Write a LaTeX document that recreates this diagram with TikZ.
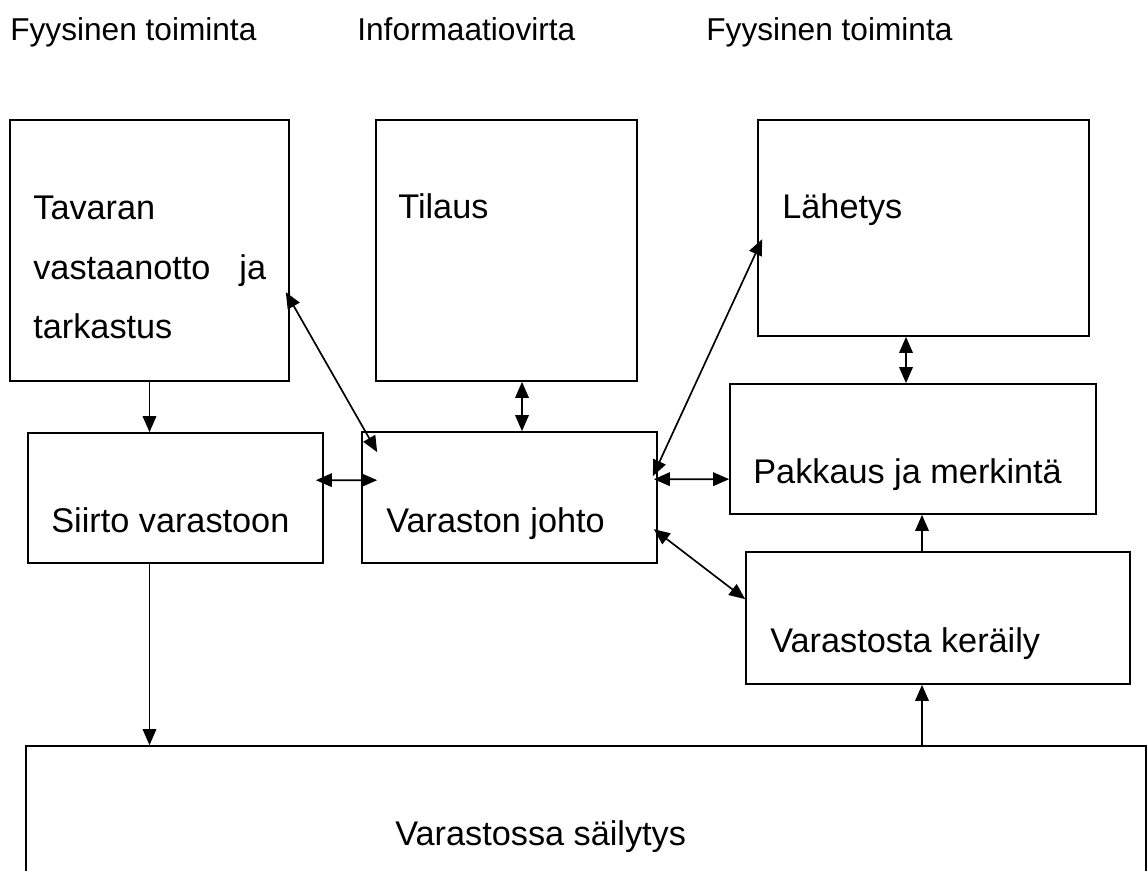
\documentclass[tikz,border=0pt]{standalone}
\usepackage{fontspec}
\setmainfont{Liberation Sans}
\usepackage{tikz}
\usetikzlibrary{arrows.meta, calc, fit}
\tikzstyle{block}=[draw, rectangle, inner sep=0pt, line width=0.95pt]
\tikzstyle{txt}=[inner sep=0pt, anchor=base west, font=\boxfont]
\tikzstyle{arr}=[line width=0.95pt, -{Triangle[length=0.32cm, width=0.27cm]}]
\tikzstyle{darr}=[line width=0.95pt, {Triangle[length=0.32cm, width=0.27cm]}-{Triangle[length=0.32cm, width=0.27cm]}]
\newcommand{\boxfont}{\fontsize{19.5}{23}\selectfont}
\newcommand{\hdfont}{\fontsize{18}{21}\selectfont}

\begin{document}
\begin{tikzpicture}[x=0.02cm, y=-0.02cm]
		\useasboundingbox (0,0) rectangle (1148,871);
		\clip (0,0) rectangle (1148,871);
		% headings
		\node[txt, font=\hdfont] (hdA) at (10,41) {Fyysinen toiminta};
		\node[txt, font=\hdfont] (hdB) at (357,41) {Informaatiovirta};
		\node[txt, font=\hdfont] (hdC) at (706,41) {Fyysinen toiminta};
		%---------------------
		\node[block, fit={(10,120) (289,381)}] (tav) {};
		\node[block, fit={(376,120) (637,381)}] (til) {};
		\node[block, fit={(758,120) (1089,336)}] (lah) {};
		\node[block, fit={(28,433) (323,563)}] (sii) {};
		\node[block, fit={(362,432) (657,563)}] (joh) {};
		\node[block, fit={(730,384) (1096,514)}] (pak) {};
		\node[block, fit={(746,552) (1130,684)}] (ker) {};
		\node[block, fit={(26,746) (1146,910)}] (sai) {};
		%---------------------
		\node[txt] (tavA) at (33,220) {Tavaran};
		\node[txt] (tavB) at (33,279) {vastaanotto\hspace{0.58cm}ja};
		\node[txt] (tavC) at (33,338) {tarkastus};
		\node[txt] (tilA) at (398,219) {Tilaus};
		\node[txt] (lahA) at (782,219) {Lähetys};
		\node[txt] (siiA) at (51,532) {Siirto varastoon};
		\node[txt] (johA) at (386,532) {Varaston johto};
		\node[txt] (pakA) at (753,483) {Pakkaus ja merkintä};
		\node[txt] (kerA) at (770,652) {Varastosta keräily};
		\node[txt] (saiA) at (395,845) {Varastossa säilytys};
		%---------------------
		\draw[arr] (tav.south) -- (tav.south |- sii.north);
		\draw[arr] (tav.south |- sii.south) -- (tav.south |- sai.north);
		\draw[darr] ($(tav.north east)+(-4,173)$) -- ($(joh.north west)+(16,21)$);
		\draw[darr] ($(sii.north east)+(-8,48)$) -- ($(joh.north west)+(16,49)$);
		\draw[darr] ($(til.south)+(15.5,0)$) -- ($(joh.north)+(12.5,0)$);
		\draw[darr] ($(joh.north east)+(-5,45)$) -- ($(lah.north west)+(5,120)$);
		\draw[darr] ($(joh.north east)+(-4,48)$) -- ($(pak.north west)+(0,96)$);
		\draw[darr] ($(joh.north east)+(-4,98)$) -- ($(ker.north west)+(0,48)$);
		\draw[darr] ($(lah.south)+(-17.5,0)$) -- ($(pak.north)+(-7,0)$);
		\coordinate (kx) at ($(ker.south)+(-16,0)$);
		\draw[arr] (kx |- ker.north) -- (kx |- pak.south);
		\draw[arr] (kx |- sai.north) -- (kx);
	\end{tikzpicture}
\end{document}
